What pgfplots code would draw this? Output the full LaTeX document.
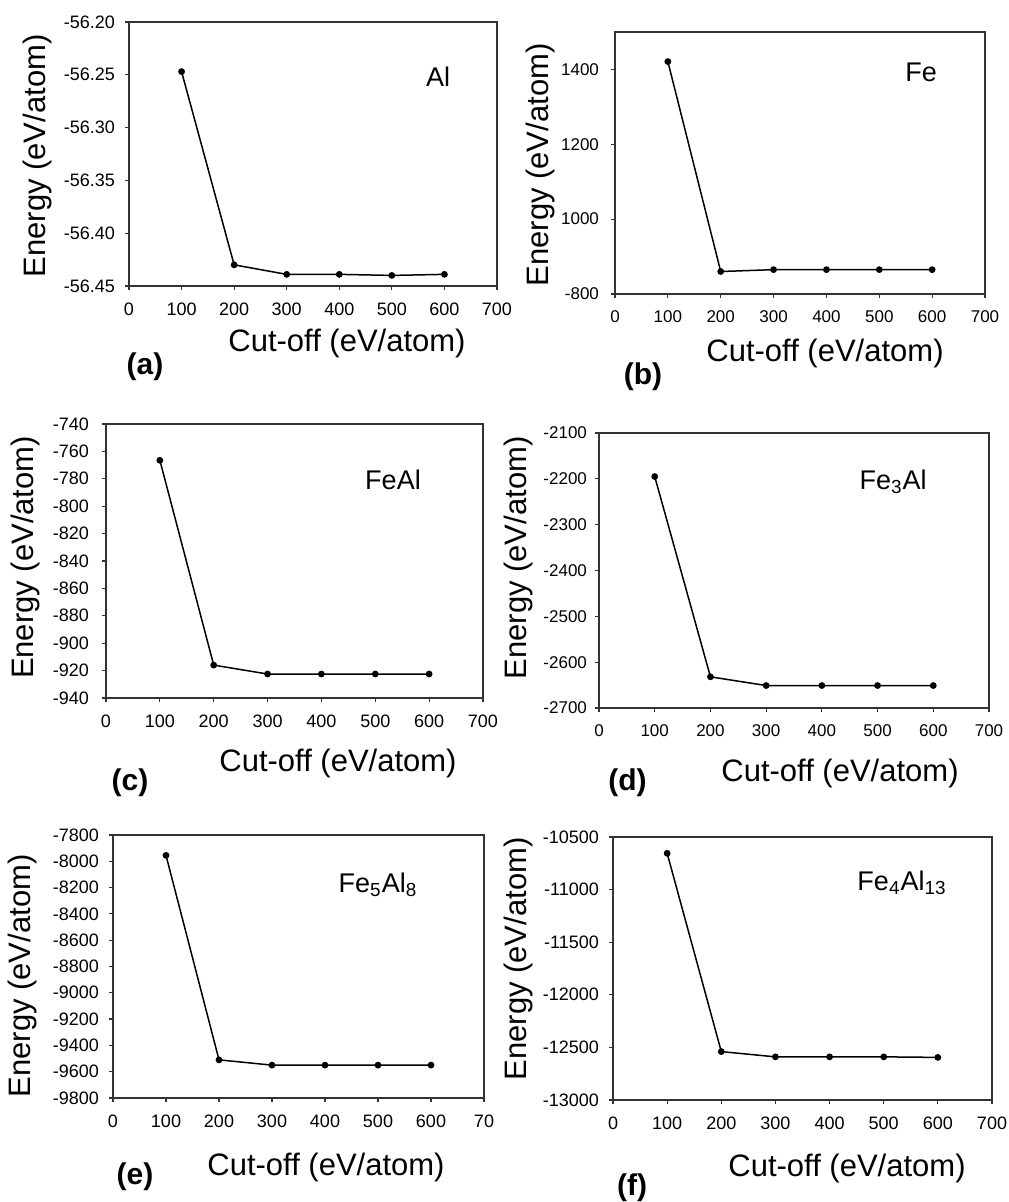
\documentclass[border=0pt]{standalone}
\usepackage{fontspec}
\setmainfont{Liberation Sans}
\usepackage{pgfplots}
\pgfplotsset{compat=1.18}
\newcommand{\tk}{\fontsize{9}{10}\selectfont}
\newcommand{\tks}{\fontsize{8.5}{10}\selectfont}
\newcommand{\lab}{\fontsize{15.5}{18}\selectfont}
\newcommand{\ann}{\fontsize{13.5}{16}\selectfont}
\newcommand{\pl}{\fontsize{15}{18}\selectfont\bfseries}
\pgfplotsset{
  panel/.style={
    scale only axis, anchor=south west,
    xmin=0, xmax=700,
    xtick={0,100,200,300,400,500,600,700},
    xticklabels={0,100,200,300,400,500,600,700},
    scaled ticks=false,
    tick align=outside, xtick pos=bottom, ytick pos=left,
    major tick length=2pt,
    axis line style={draw=black!80, line width=0.8pt},
    every tick/.style={draw=black!80, line width=0.6pt},
    ticklabel style={font=\tk},
    xticklabel style={font=\tk, yshift=-3pt},
    yticklabel style={font=\tk, xshift=-1.5pt},
    /pgf/number format/assume math mode=true,
    /pgf/number format/1000 sep={},
  },
  ser/.style={black, line width=0.75pt, mark=*, mark size=1.3pt, mark options={fill=black}},
}
\begin{document}
\begin{tikzpicture}
\useasboundingbox (0,0) rectangle (504pt,601pt);
% (a) Al
\begin{axis}[panel, at={(64.5pt,458pt)}, width=184pt, height=132pt,
  ymin=-56.45, ymax=-56.20,
  ytick={-56.45,-56.40,-56.35,-56.30,-56.25,-56.20},
  yticklabels={-56.45,-56.40,-56.35,-56.30,-56.25,-56.20}]
\addplot[ser] coordinates {(100,-56.247) (200,-56.430) (300,-56.439) (400,-56.439) (500,-56.440) (600,-56.439)};
\end{axis}

% (b) Fe
\begin{axis}[panel, at={(307.5pt,454pt)}, width=185pt, height=131pt,
  ymin=800, ymax=1500,
  ytick={800,1000,1200,1400},
  yticklabels={-800,1000,1200,1400},
  xticklabel style={font=\tks},
  yticklabel style={font=\tks, xshift=-1pt}]
\addplot[ser] coordinates {(100,1421) (200,860) (300,865) (400,865) (500,865) (600,865)};
\end{axis}

% (c) FeAl
\begin{axis}[panel, at={(53pt,252pt)}, width=188.5pt, height=137pt,
  ymin=-940, ymax=-740,
  ytick={-940,-920,-900,-880,-860,-840,-820,-800,-780,-760,-740},
  yticklabels={-940,-920,-900,-880,-860,-840,-820,-800,-780,-760,-740},
  yticklabel style={xshift=-1.5pt}]
\addplot[ser] coordinates {(100,-766.5) (200,-916) (300,-922.5) (400,-922.5) (500,-922.5) (600,-922.5)};
\end{axis}

% (d) Fe3Al
\begin{axis}[panel, at={(299.5pt,247pt)}, width=195pt, height=137.5pt,
  ymin=-2700, ymax=-2100,
  ytick={-2700,-2600,-2500,-2400,-2300,-2200,-2100},
  yticklabels={-2700,-2600,-2500,-2400,-2300,-2200,-2100},
  xticklabel style={font=\tks},
  yticklabel style={font=\tks, xshift=1pt}]
\addplot[ser] coordinates {(100,-2195) (200,-2632) (300,-2651) (400,-2651) (500,-2651) (600,-2651)};
\end{axis}

% (e) Fe5Al8
\begin{axis}[panel, at={(56.5pt,52pt)}, width=185.5pt, height=131.5pt,
  ymin=-9800, ymax=-7800,
  ytick={-9800,-9600,-9400,-9200,-9000,-8800,-8600,-8400,-8200,-8000,-7800},
  yticklabels={-9800,-9600,-9400,-9200,-9000,-8800,-8600,-8400,-8200,-8000,-7800},
  xticklabels={0,100,200,300,400,500,600,70}]
\addplot[ser] coordinates {(100,-7955) (200,-9510) (300,-9550) (400,-9550) (500,-9550) (600,-9550)};
\end{axis}

% (f) Fe4Al13
\begin{axis}[panel, at={(306.5pt,51pt)}, width=189.5pt, height=131.5pt,
  ymin=-13000, ymax=-10500,
  ytick={-13000,-12500,-12000,-11500,-11000,-10500},
  yticklabels={-13000,-12500,-12000,-11500,-11000,-10500}]
\addplot[ser] coordinates {(100,-10655) (200,-12540) (300,-12590) (400,-12590) (500,-12590) (600,-12595)};
\end{axis}

% x labels
\node[font=\lab] at (173.5pt,429.5pt) {Cut-off (eV/atom)};
\node[font=\lab] at (412.5pt,424.5pt) {Cut-off (eV/atom)};
\node[font=\lab] at (169pt,219.5pt) {Cut-off (eV/atom)};
\node[font=\lab] at (420pt,214.5pt) {Cut-off (eV/atom)};
\node[font=\lab] at (163pt,17.5pt) {Cut-off (eV/atom)};
\node[font=\lab] at (423.5pt,17pt) {Cut-off (eV/atom)};
% y labels
\node[font=\lab, rotate=90] at (18.5pt,523pt) {Energy (eV/atom)};
\node[font=\lab, rotate=90] at (270pt,518.5pt) {Energy (eV/atom)};
\node[font=\lab, rotate=90] at (12.5pt,322.25pt) {Energy (eV/atom)};
\node[font=\lab, rotate=90] at (259pt,322pt) {Energy (eV/atom)};
\node[font=\lab, rotate=90] at (11pt,113pt) {Energy (eV/atom)};
\node[font=\lab, rotate=90] at (259pt,121.5pt) {Energy (eV/atom)};
% panel labels
\node[font=\pl] at (72.5pt,417.5pt) {(a)};
\node[font=\pl] at (321.5pt,412.5pt) {(b)};
\node[font=\pl] at (65pt,209.5pt) {(c)};
\node[font=\pl] at (313.75pt,209.5pt) {(d)};
\node[font=\pl] at (67.5pt,12.5pt) {(e)};
\node[font=\pl] at (316pt,7.25pt) {(f)};
% annotations
\node[font=\ann] at (219pt,562.5pt) {Al};
\node[font=\ann] at (460.5pt,565pt) {Fe};
\node[font=\ann] at (196.5pt,361pt) {FeAl};
\node[font=\ann] at (446.5pt,360pt) {Fe\textsubscript{3}Al};
\node[font=\ann] at (189pt,158.5pt) {Fe\textsubscript{5}Al\textsubscript{8}};
\node[font=\ann] at (451pt,159.5pt) {Fe\textsubscript{4}Al\textsubscript{13}};
\end{tikzpicture}
\end{document}
